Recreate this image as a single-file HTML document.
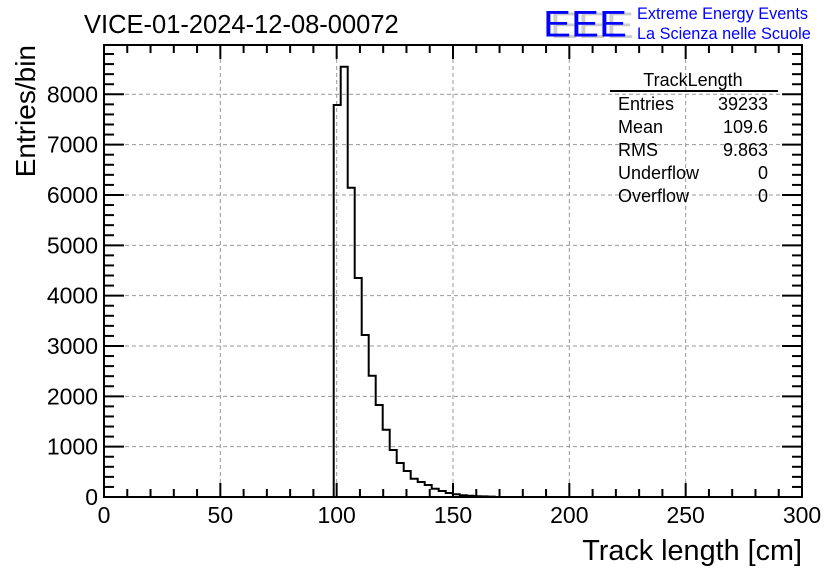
<!DOCTYPE html>
<html><head><meta charset="utf-8"><style>
html,body{margin:0;padding:0;background:#fff;}
svg{display:block;font-family:"Liberation Sans",sans-serif;}
</style></head><body>
<svg id="s" width="836" height="572" viewBox="0 0 836 572" xmlns="http://www.w3.org/2000/svg">
<rect width="836" height="572" fill="#fff"/>
<g id="grid" stroke="#999" stroke-width="1" stroke-dasharray="4,3"></g>
<g id="ticks" stroke="#000" stroke-width="2"></g>
<path id="hist" fill="none" stroke="#000" stroke-width="2"/>
<rect x="104" y="45" width="698" height="452" fill="none" stroke="#000" stroke-width="2"/>
<g id="labels" font-size="23" fill="#000"></g>
<text x="84" y="33" font-size="25.5">VICE-01-2024-12-08-00072</text>
<text x="35" y="45" font-size="28" transform="rotate(-90 35 45)" text-anchor="end">Entries/bin</text>
<text x="802" y="560" font-size="28.8" text-anchor="end">Track length [cm]</text>
<g font-size="44" transform="scale(1,0.85)">
<text x="550" y="45" fill="#ccc" textLength="84" lengthAdjust="spacingAndGlyphs">EEE</text>
<text x="543" y="43" fill="#0000ff" textLength="84" lengthAdjust="spacingAndGlyphs">EEE</text>
</g>
<text x="637" y="19" font-size="16.3" fill="#0000ff">Extreme Energy Events</text>
<text x="637" y="39" font-size="16.3" fill="#0000ff">La Scienza nelle Scuole</text>
<g font-size="18" fill="#000">
<text x="693" y="86" text-anchor="middle">TrackLength</text>
<line x1="610" y1="91" x2="778" y2="91" stroke="#000" stroke-width="2"/>
<text x="618" y="110">Entries</text><text x="768" y="110" text-anchor="end">39233</text>
<text x="618" y="133">Mean</text><text x="768" y="133" text-anchor="end">109.6</text>
<text x="618" y="156">RMS</text><text x="768" y="156" text-anchor="end">9.863</text>
<text x="618" y="179">Underflow</text><text x="768" y="179" text-anchor="end">0</text>
<text x="618" y="202">Overflow</text><text x="768" y="202" text-anchor="end">0</text>
</g>
</svg>
<script>
var NS="http://www.w3.org/2000/svg";
function el(p,t,a,txt){var e=document.createElementNS(NS,t);for(var k in a)e.setAttribute(k,a[k]);if(txt!=null)e.textContent=txt;document.getElementById(p).appendChild(e);}
var X0=104,X1=802,Y0=497,YT=45,sx=(X1-X0)/300,sy=(Y0-94.3)/8000;
for(var v=50;v<300;v+=50){var x=X0+v*sx;el("grid","line",{x1:x,y1:YT,x2:x,y2:Y0});}
for(var v=1000;v<=8000;v+=1000){var y=Y0-v*sy;el("grid","line",{x1:X0,y1:y,x2:X1,y2:y});}
for(var v=0;v<=300;v+=10){var x=X0+v*sx,L=(v%50==0)?14:8;
 el("ticks","line",{x1:x,y1:Y0,x2:x,y2:Y0-L});el("ticks","line",{x1:x,y1:YT,x2:x,y2:YT+L});}
for(var v=0;v<=8800;v+=200){var y=Y0-v*sy;if(y<YT)break;var L=(v%1000==0)?20:10;
 el("ticks","line",{x1:X0,y1:y,x2:X0+L,y2:y});el("ticks","line",{x1:X1,y1:y,x2:X1-L,y2:y});}
for(var v=0;v<=300;v+=50){el("labels","text",{x:X0+v*sx,y:523,"text-anchor":"middle"},String(v));}
for(var v=0;v<=8000;v+=1000){el("labels","text",{x:98,y:Y0-v*sy+8,"text-anchor":"end"},String(v));}
var ys=[105,66.7,187.7,278,335,375.7,405,429.7,450,463,471,478.7,482,485,488.7,491,493,494.3,495.3,495.8,496.2,496.4,496.6];
var d="M"+X0+" "+Y0+" L333.7 "+Y0;var x=333.7;
for(var i=0;i<ys.length;i++){d+=" L"+x+" "+ys[i];x+=7;d+=" L"+x+" "+ys[i];}
d+=" L"+x+" "+Y0+" L"+X1+" "+Y0;
document.getElementById("hist").setAttribute("d",d);
</script>
</body></html>
